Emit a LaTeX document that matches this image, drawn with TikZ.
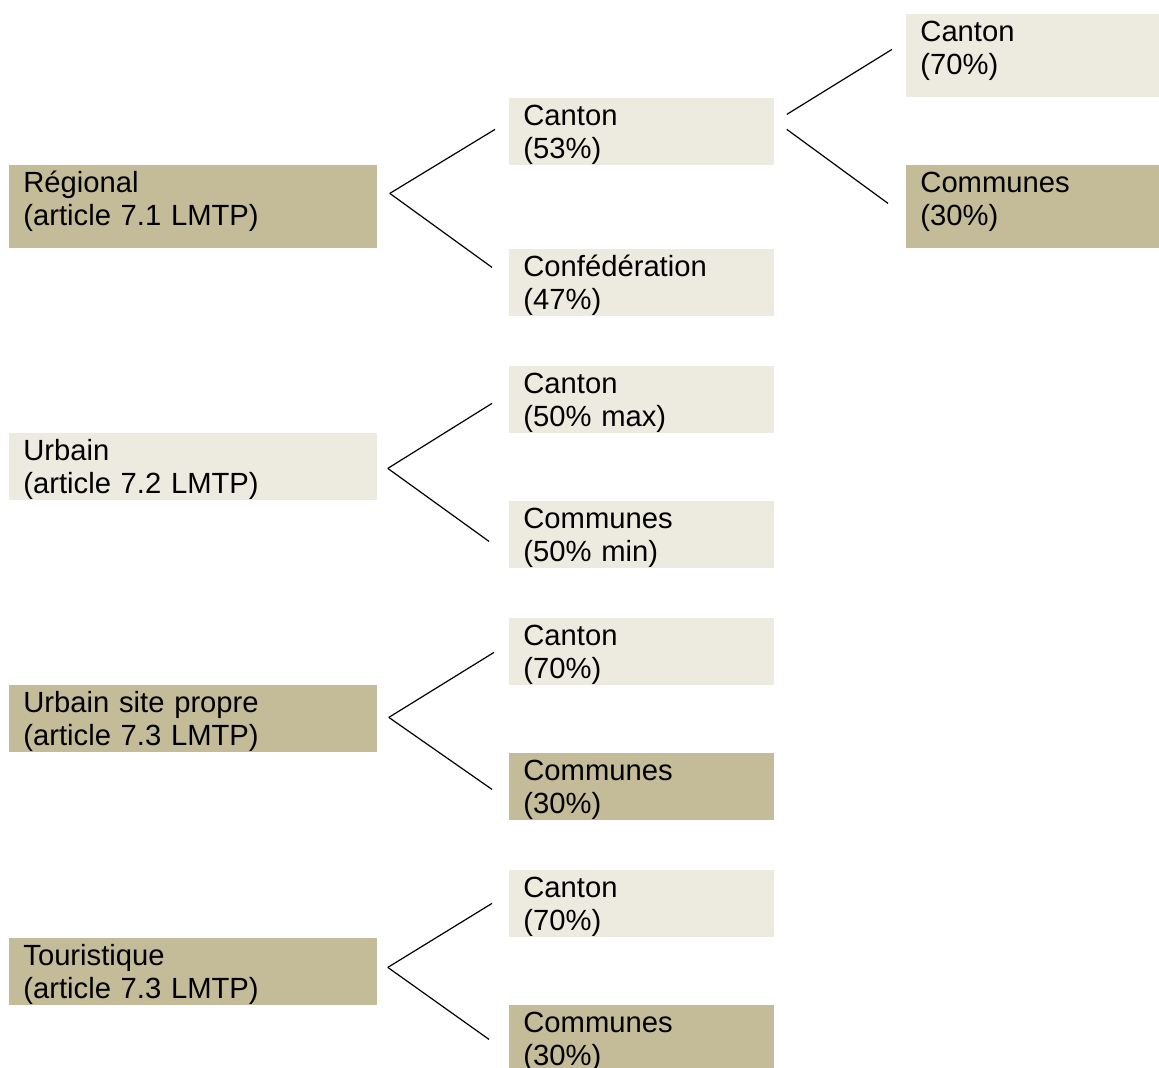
\documentclass[tikz,border=0pt]{standalone}
\usepackage{fontspec}
\setmainfont{Liberation Sans}
\usepackage{tikz}
\usetikzlibrary{positioning}

\definecolor{darkbox}{HTML}{C4BB98}
\definecolor{lightbox}{HTML}{EDEAE0}

\begin{document}
\begin{tikzpicture}[x=0.5pt,y=-0.5pt,
    box/.style={anchor=north west,align=left,inner xsep=7pt,inner ysep=0pt,
        text height=13.5pt,text depth=20pt,
        font=\fontsize{14.6pt}{16.5pt}\selectfont},
    wide/.style={box,text width=170pt},
    mid/.style={box,text width=118.5pt},
    far/.style={box,text width=112.5pt,text depth=28pt},
    dark/.style={fill=darkbox},
    light/.style={fill=lightbox}]
    \clip (0,0) rectangle (1159,1068);
    % left column
    \node[wide,dark,text depth=28pt] (reg) at (9,165) {Régional\\(article 7.1 LMTP)};
    \node[wide,light] (urb) at (9,433) {Urbain\\(article 7.2 LMTP)};
    \node[wide,dark] (usp) at (9,685) {Urbain site propre\\(article 7.3 LMTP)};
    \node[wide,dark] (tou) at (9,938) {Touristique\\(article 7.3 LMTP)};
    % middle column
    \node[mid,light] (can53) at (509,98) {Canton\\(53\%)};
    \node[mid,light] (conf) at (509,249) {Confédération\\(47\%)};
    \node[mid,light] (canmax) at (509,366) {Canton\\(50\% max)};
    \node[mid,light] (commin) at (509,501) {Communes\\(50\% min)};
    \node[mid,light] (canusp) at (509,618) {Canton\\(70\%)};
    \node[mid,dark] (comusp) at (509,753) {Communes\\(30\%)};
    \node[mid,light] (cantou) at (509,870) {Canton\\(70\%)};
    \node[mid,dark] (comtou) at (509,1005) {Communes\\(30\%)};
    % right column
    \node[far,light] (rcan) at (906,14) {Canton\\(70\%)};
    \node[far,dark] (rcom) at (906,165) {Communes\\(30\%)};
    \begin{scope}[every edge/.style={draw=black,line width=0.6pt}]
    \path ([shift={(12,-13.5)}]reg.east) edge ([shift={(-14,-2.5)}]can53.west);
    \path ([shift={(12,-13.5)}]reg.east) edge ([shift={(-17,-15.5)}]conf.west);
    \path ([shift={(10,1.5)}]urb.east) edge ([shift={(-17,3.5)}]canmax.west);
    \path ([shift={(10,1.5)}]urb.east) edge ([shift={(-20,6.5)}]commin.west);
    \path ([shift={(11,-1.5)}]usp.east) edge ([shift={(-15,0.5)}]canusp.west);
    \path ([shift={(11,-1.5)}]usp.east) edge ([shift={(-17,2.5)}]comusp.west);
    \path ([shift={(10,-4.5)}]tou.east) edge ([shift={(-17,-0.5)}]cantou.west);
    \path ([shift={(10,-4.5)}]tou.east) edge ([shift={(-20,0.5)}]comtou.west);
    \path ([shift={(12,-17.5)}]can53.east) edge ([shift={(-14,-6.5)}]rcan.west);
    \path ([shift={(12,-2.5)}]can53.east) edge ([shift={(-18,-3.5)}]rcom.west);
    \end{scope}
\end{tikzpicture}
\end{document}
